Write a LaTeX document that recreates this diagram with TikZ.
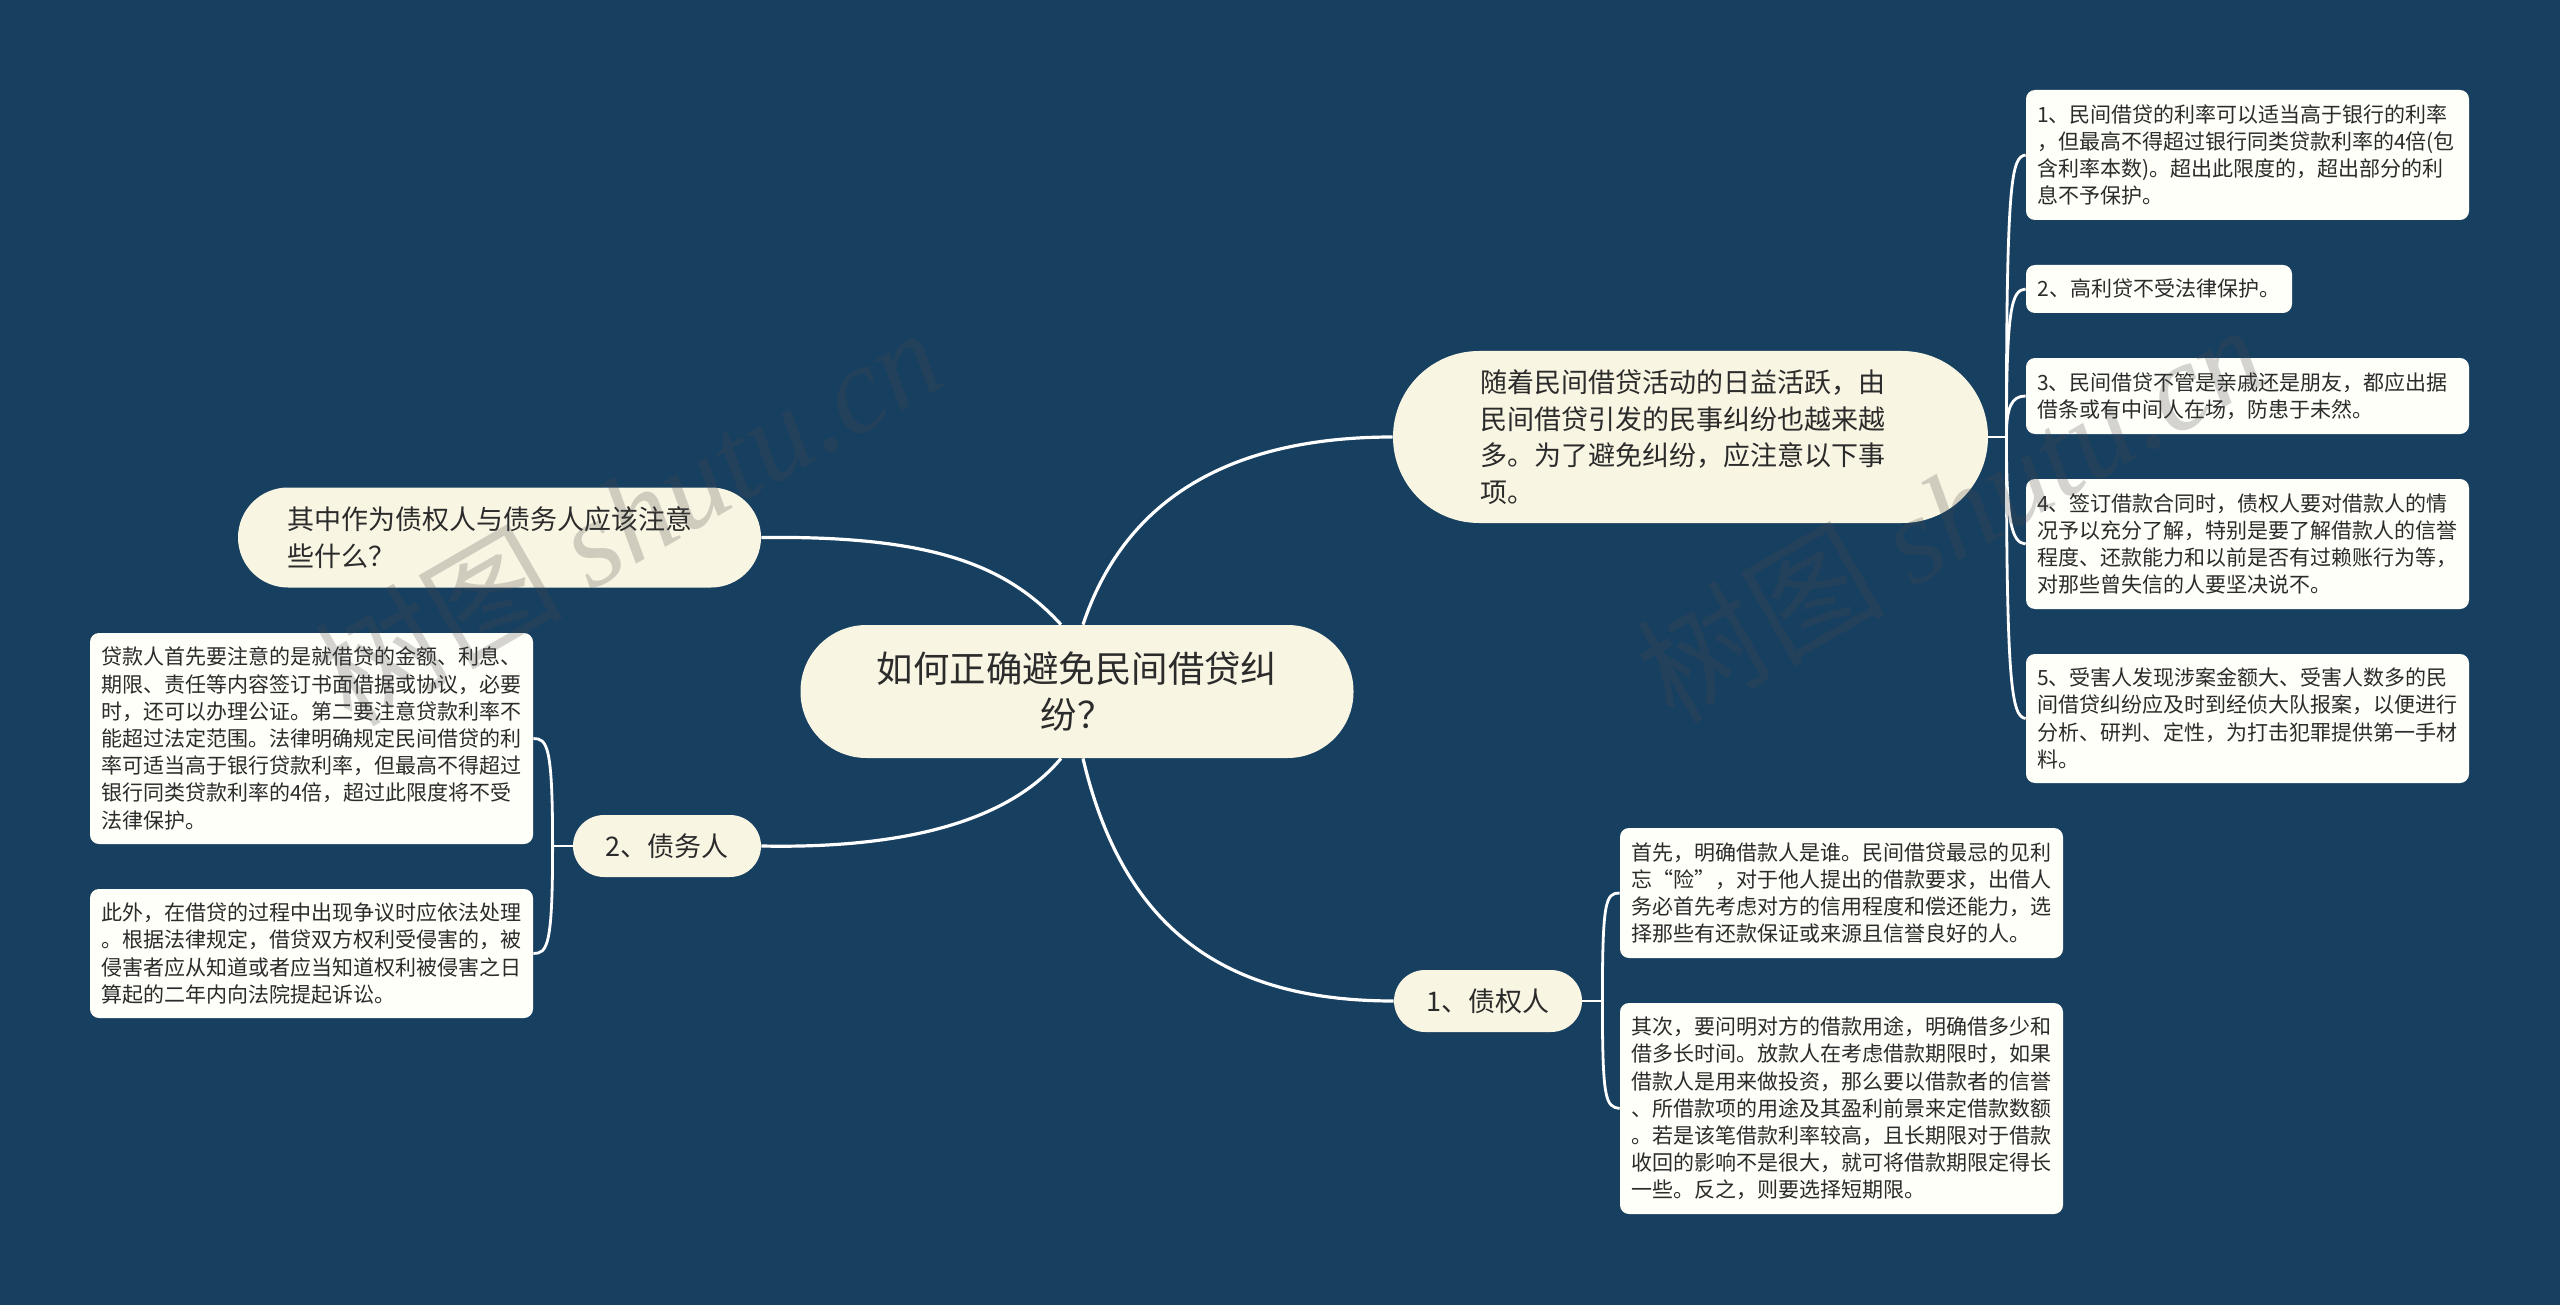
\documentclass[tikz,border=0pt]{standalone}
\usepackage{fontspec}
\setmainfont{Noto Sans CJK SC}
\newfontfamily\markfont{Liberation Serif}[ItalicFont=* Italic]
\usetikzlibrary{positioning}
\definecolor{bgblue}{HTML}{173F60}
\definecolor{capcream}{HTML}{F9F5E3}
\definecolor{leafwhite}{HTML}{FFFFF9}
\definecolor{inkgray}{HTML}{2B2B2B}
\definecolor{markgray}{HTML}{4C4A4C}
\tikzset{
  x=0.5pt,y=-0.5pt,
  link/.style={draw=white,line width=1.6pt},
  twig/.style={draw=white,line width=1.4pt},
  root/.style={fill=capcream,text=inkgray,rounded corners=33pt,inner sep=0,
    minimum height=66.5pt,text width=276.5pt,align=center,
    font=\fontsize{18.2}{23}\selectfont},
  branch/.style={fill=capcream,text=inkgray,inner sep=0,
    font=\fontsize{13.5}{18.3}\selectfont},
  leaf/.style={fill=leafwhite,text=inkgray,rounded corners=4.5pt,inner sep=0,
    minimum width=221.5pt,font=\fontsize{10.5}{13.6}\selectfont},
  wmark/.style={text=markgray,opacity=.24,rotate=30,inner sep=0,font=\fontsize{62}{62}\selectfont}
}
\begin{document}
\begin{tikzpicture}
    \useasboundingbox[fill=bgblue] (0,0) rectangle (2560,1305);

    % centre
    \node[root] (topic) at (1077,691.5) {如何正确避免民间借贷纠\\纷？};

    % four branches
    \node[branch,rounded corners=43pt,minimum width=297.5pt,minimum height=86pt,
      text width=210.5pt,align=left] (intro) at (1690.5,437) {随着民间借贷活动的日益活跃，由\\民间借贷引发的民事纠纷也越来越\\多。为了避免纠纷，应注意以下事\\项。};
    \node[branch,rounded corners=25pt,minimum width=261.5pt,minimum height=50pt,
      text width=212pt,align=left] (question) at (499.5,537.5) {其中作为债权人与债务人应该注意\\些什么？};
    \node[branch,rounded corners=15.5pt,minimum width=94pt,minimum height=31pt,
      align=center] (debtor) at (667,846) {2、债务人};
    \node[branch,rounded corners=15.5pt,minimum width=94pt,minimum height=31pt,
      align=center] (creditor) at (1488,1001) {1、债权人};

    % leaves on the right
    \node[leaf,text width=210.5pt,minimum height=65pt,align=left] (rate) at (2247.5,155) {1、民间借贷的利率可以适当高于银行的利率\\，但最高不得超过银行同类贷款利率的4倍(包\\含利率本数)。超出此限度的，超出部分的利\\息不予保护。};
    \node[leaf,minimum width=133pt,minimum height=24pt,align=center] (usury) at (2159,289) {2、高利贷不受法律保护。};
    \node[leaf,text width=210.5pt,minimum height=38pt,align=left] (receipt) at (2247.5,396) {3、民间借贷不管是亲戚还是朋友，都应出据\\借条或有中间人在场，防患于未然。};
    \node[leaf,text width=210.5pt,minimum height=65pt,align=left] (contract) at (2247.5,544) {4、签订借款合同时，债权人要对借款人的情\\况予以充分了解，特别是要了解借款人的信誉\\程度、还款能力和以前是否有过赖账行为等，\\对那些曾失信的人要坚决说不。};
    \node[leaf,text width=210.5pt,minimum height=64.5pt,align=left] (report) at (2247.5,718.5) {5、受害人发现涉案金额大、受害人数多的民\\间借贷纠纷应及时到经侦大队报案，以便进行\\分析、研判、定性，为打击犯罪提供第一手材\\料。};

    % leaves at the bottom
    \node[leaf,text width=210.5pt,minimum height=65pt,align=left] (who) at (1841.5,893) {首先，明确借款人是谁。民间借贷最忌的见利\\忘“险”，对于他人提出的借款要求，出借人\\务必首先考虑对方的信用程度和偿还能力，选\\择那些有还款保证或来源且信誉良好的人。};
    \node[leaf,text width=210.5pt,minimum height=105.5pt,align=left] (purpose) at (1841.5,1108.5) {其次，要问明对方的借款用途，明确借多少和\\借多长时间。放款人在考虑借款期限时，如果\\借款人是用来做投资，那么要以借款者的信誉\\、所借款项的用途及其盈利前景来定借款数额\\。若是该笔借款利率较高，且长期限对于借款\\收回的影响不是很大，就可将借款期限定得长\\一些。反之，则要选择短期限。};

    % leaves on the left
    \node[leaf,text width=210.5pt,minimum height=105.5pt,align=left] (lender) at (311.5,738.5) {贷款人首先要注意的是就借贷的金额、利息、\\期限、责任等内容签订书面借据或协议，必要\\时，还可以办理公证。第二要注意贷款利率不\\能超过法定范围。法律明确规定民间借贷的利\\率可适当高于银行贷款利率，但最高不得超过\\银行同类贷款利率的4倍，超过此限度将不受\\法律保护。};
    \node[leaf,text width=210.5pt,minimum height=64.5pt,align=left] (dispute) at (311.5,953.5) {此外，在借贷的过程中出现争议时应依法处理\\。根据法律规定，借贷双方权利受侵害的，被\\侵害者应从知道或者应当知道权利被侵害之日\\算起的二年内向法院提起诉讼。};

    \coordinate (hubr) at ([xshift=9pt]intro.east);
    \coordinate (hubb) at ([xshift=10pt]creditor.east);
    \coordinate (hubl) at ([xshift=-10pt]debtor.west);

    % from the centre
    \draw[link] ([xshift=3pt]topic.north) .. controls +(40,-120) and +(-170,0) .. (intro.west);
    \draw[link] ([xshift=-8pt]topic.north) .. controls +(-55,-60) and +(170,-2) .. (question.east);
    \draw[link] ([xshift=-8pt]topic.south) .. controls +(-50,60) and +(150,3) .. (debtor.east);
    \draw[link] ([xshift=3pt]topic.south) .. controls +(40,170) and +(-170,0) .. (creditor.west);

    % the right fan
    \draw[twig] (intro.east) -- (hubr);
    \draw[twig] (hubr) .. controls +(0,-260) and +(-14,2) .. (rate.west);
    \draw[twig] (hubr) .. controls +(0,-130) and +(-14,1) .. (usury.west);
    \draw[twig] (hubr) .. controls +(0,-30) and +(-14,0) .. (receipt.west);
    \draw[twig] (hubr) .. controls +(0,85) and +(-14,-1) .. (contract.west);
    \draw[twig] (hubr) .. controls +(0,250) and +(-14,-2) .. (report.west);

    % the bottom fan
    \draw[twig] (creditor.east) -- (hubb);
    \draw[twig] (hubb) .. controls +(0,-100) and +(-14,0) .. (who.west);
    \draw[twig] (hubb) .. controls +(0,100) and +(-14,-2) .. (purpose.west);

    % the left fan
    \draw[twig] (debtor.west) -- (hubl);
    \draw[twig] (hubl) .. controls +(0,-100) and +(14,0) .. (lender.east);
    \draw[twig] (hubl) .. controls +(0,100) and +(14,0) .. (dispute.east);

    % watermarks
    \node[wmark] (markl) at (628,515) {树图 \markfont\itshape shutu.cn};
    \node[wmark] (markr) at (1950,512) {树图 \markfont\itshape shutu.cn};
  \end{tikzpicture}
\end{document}
